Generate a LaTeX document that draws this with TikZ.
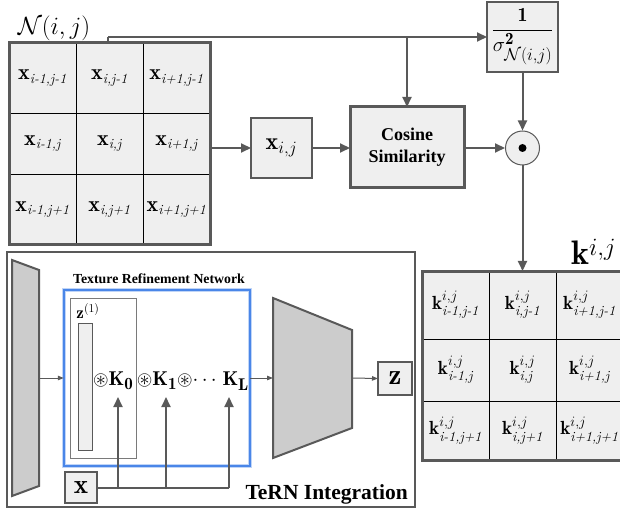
\documentclass[tikz,border=0pt]{standalone}
\usepackage{amsmath,amssymb}
\usepackage{fontspec}
\newfontfamily\tnr{Liberation Serif}
\usetikzlibrary{arrows.meta,calc}
\definecolor{gfill}{HTML}{EFEFEF}
\definecolor{gline}{HTML}{595959}
\definecolor{tfill}{HTML}{CCCCCC}
\definecolor{bline}{HTML}{4A86E8}
\DeclareMathSizes{22}{22}{14}{10}
\DeclareMathSizes{19}{19}{14}{10}
\DeclareMathSizes{20}{20}{17}{12}
\DeclareMathSizes{24}{24}{17}{12}
\DeclareMathSizes{17}{17}{12.5}{9}
\newcommand{\cellx}[1]{\mathbf{x}_{\textit{#1}}}
\newcommand{\cellk}[1]{\mathbf{k}^{i,j}_{\textit{#1}}}
\begin{document}
\begin{tikzpicture}[x=1pt,y=-1pt,
  gbox/.style={draw=gline, line width=2pt, fill=gfill, inner sep=0pt, outer sep=0pt},
  thickbox/.style={gbox, line width=3pt},
  arr/.style={draw=gline, line width=2pt, -{Triangle[length=10pt,width=9pt]}},
  thinarr/.style={draw=gline, line width=1pt, -{Triangle[length=6pt,width=4.5pt]}},
  conn/.style={draw=gline, line width=2pt},
  gridline/.style={draw=black, line width=0.8pt},
  cell/.style={font=\fontsize{22}{24}\selectfont, inner sep=0pt},
  kcell/.style={font=\fontsize{19}{21}\selectfont, inner sep=0pt},
  trap/.style={draw=gline, line width=2pt, fill=tfill, line join=miter}]
\useasboundingbox (0,0) rectangle (620,510);

% ---------- neighbourhood grid ----------
\node[thickbox, minimum width=201pt, minimum height=202pt] (grid) at (109.5,144) {};
\draw[gridline] (76,44.5) -- (76,243.5) (143,44.5) -- (143,243.5)
  (10.5,113) -- (208.5,113) (10.5,174) -- (208.5,174);
\draw[thickbox, fill=none] (grid.north west) rectangle (grid.south east);
\node[cell] (x11) at (42.5,78) {$\cellx{i-1,j-1}$};
\node[cell] (x12) at (109.5,78) {$\cellx{i,j-1}$};
\node[cell] (x13) at (176.5,78) {$\cellx{i+1,j-1}$};
\node[cell] (x21) at (42.5,143.5) {$\cellx{i-1,j}$};
\node[cell] (x22) at (109.5,143.5) {$\cellx{i,j}$};
\node[cell] (x23) at (176.5,143.5) {$\cellx{i+1,j}$};
\node[cell] (x31) at (42.5,209.5) {$\cellx{i-1,j+1}$};
\node[cell] (x32) at (109.5,209.5) {$\cellx{i,j+1}$};
\node[cell] (x33) at (176.5,209.5) {$\cellx{i+1,j+1}$};
\node[font=\fontsize{24}{26}\selectfont, inner sep=0pt] (nlab) at (54,28) {$\mathcal{N}(i,j)$};

% ---------- upper chain ----------
\node[gbox, minimum width=61pt, minimum height=60pt, font=\fontsize{24}{26}\selectfont] (xij) at (281.5,148) {$\mathbf{x}_{i,j}$};
\node[thickbox, minimum width=114pt, minimum height=81pt, align=center,
  font=\tnr\bfseries\fontsize{18}{22}\selectfont] (cos) at (407,147.5) {Cosine\\Similarity};
\node[gbox, minimum width=71pt, minimum height=70pt, font=\fontsize{20}{22}\selectfont] (sig) at (522.5,37)
  {$\dfrac{\mathbf{1}}{\sigma^{\mathbf{2}}_{\mathcal{N}(i,j)}}$};
\node[draw=gline, line width=1pt, fill=gfill, circle, minimum size=34pt, inner sep=0pt] (dotc) at (522.5,148) {};
\node[fill=black, circle, minimum size=8pt, inner sep=0pt] (dotin) at (dotc) {};

\coordinate (tp) at (108,37);
\draw[conn] (grid.north -| tp) -- (tp);
\draw[arr] (tp) -- (sig.west);
\draw[arr] (cos.north |- tp) -- (cos.north);
\draw[arr] (grid.east |- xij.west) -- (xij.west);
\draw[arr] (xij.east) -- (cos.west |- xij.east);
\draw[arr] (cos.east |- dotc) -- (dotc.west);
\draw[arr] (sig.south) -- (dotc.north);

% ---------- kernel grid ----------
\node[thickbox, minimum width=201pt, minimum height=189pt] (kgrid) at (522.5,365.5) {};
\draw[gridline] (489,272.5) -- (489,458.5) (556,272.5) -- (556,458.5)
  (423.5,339) -- (621.5,339) (423.5,401) -- (621.5,401);
\draw[thickbox, fill=none] (kgrid.north west) rectangle (kgrid.south east);
\node[kcell] (k11) at (455.5,305) {$\cellk{i-1,j-1}$};
\node[kcell] (k12) at (522.5,305) {$\cellk{i,j-1}$};
\node[kcell] (k13) at (589.5,305) {$\cellk{i+1,j-1}$};
\node[kcell] (k21) at (455.5,370) {$\cellk{i-1,j}$};
\node[kcell] (k22) at (522.5,370) {$\cellk{i,j}$};
\node[kcell] (k23) at (589.5,370) {$\cellk{i+1,j}$};
\node[kcell] (k31) at (455.5,430.5) {$\cellk{i-1,j+1}$};
\node[kcell] (k32) at (522.5,430.5) {$\cellk{i,j+1}$};
\node[kcell] (k33) at (589.5,430.5) {$\cellk{i+1,j+1}$};
\node[font=\fontsize{34}{36}\selectfont, inner sep=0pt, anchor=base west] (klab) at (571,265) {$\mathbf{k}^{i,j}$};
\draw[arr] (dotc.south) -- (kgrid.north -| dotc);

% ---------- TeRN integration ----------
\node[draw=gline, line width=1.5pt, minimum width=408pt, minimum height=255pt, inner sep=0pt] (tern) at (211,379.5) {};
\node[font=\tnr\bfseries\fontsize{21.5}{24}\selectfont, inner sep=0pt, anchor=base east] (ternlab) at (408,499) {TeRN Integration};

\draw[trap] (12,260) -- (39,270) -- (39,486) -- (12,496) -- cycle;
\coordinate (encR) at (39,378);
\draw[trap] (273,298) -- (352,330) -- (352,428) -- (273,458) -- cycle;
\coordinate (decL) at (273,378);
\coordinate (decR) at (352,378);

\node[minimum width=186pt, minimum height=176pt, inner sep=0pt] (trn) at (157,378) {};
\draw[bline!35, line width=4pt] (trn.north west) rectangle (trn.south east);
\draw[bline, line width=2pt] (trn.north west) rectangle (trn.south east);
\node[font=\tnr\bfseries\fontsize{13.8}{15}\selectfont, inner sep=0pt] (trnlab) at (159,279) {Texture Refinement Network};

\node[draw=gline!80, line width=0.8pt, minimum width=66pt, minimum height=160pt, inner sep=0pt] (inner) at (103,378) {};
\node[draw=gline, fill=gfill, line width=0.8pt, minimum width=14pt, minimum height=127pt, inner sep=0pt] (bar) at (85,386.5) {};
\node[font=\fontsize{17}{19}\selectfont, inner sep=0pt] (z1) at (88,311) {$\mathbf{z}^{(1)}$};

\node[font=\fontsize{20}{22}\selectfont, inner sep=0pt] (kern) at (171,381)
  {${\circledast}\mathbf{K}_{\mathbf{0}}\,{\circledast}\mathbf{K}_{\mathbf{1}}{\circledast}{\cdots}\;\mathbf{K}_{\mathbf{L}}$};

\node[gbox, minimum width=32pt, minimum height=31pt, font=\fontsize{27}{29}\selectfont] (xb) at (81,487.5) {$\mathbf{x}$};
\node[gbox, minimum width=34pt, minimum height=33pt, font=\fontsize{29}{31}\selectfont] (zb) at (395,378.5) {$\mathbf{z}$};

\coordinate (kk0) at (118,397);
\coordinate (kk1) at (166,397);
\coordinate (kkL) at (229,397);
\draw[conn] (xb.east) -- (xb.east -| kkL);
\draw[arr] (xb.east -| kk0) -- (kk0);
\draw[arr] (xb.east -| kk1) -- (kk1);
\draw[arr] (xb.east -| kkL) -- (kkL);

\draw[thinarr] (encR) -- (trn.west);
\draw[thinarr] (trn.east) -- (decL);
\draw[thinarr] (decR) -- (zb.west);
\end{tikzpicture}
\end{document}
